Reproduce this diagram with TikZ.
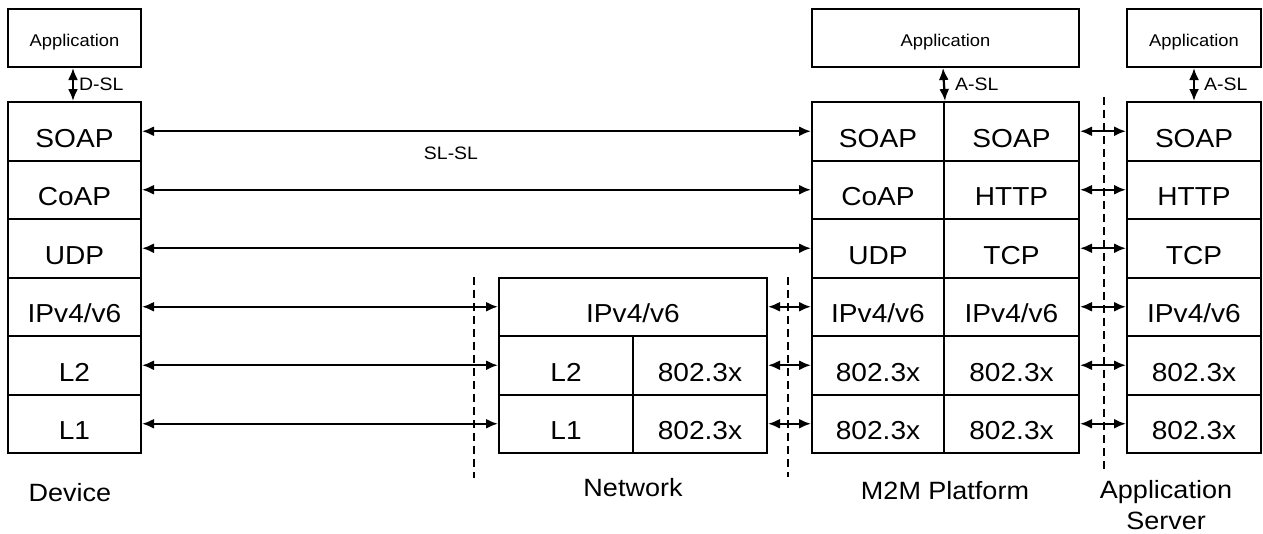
\documentclass[tikz,border=0pt]{standalone}
\usepackage{fontspec}
\setmainfont{Liberation Sans}[FakeStretch=1.08]
\usetikzlibrary{arrows.meta}
\begin{document}
\begin{tikzpicture}[x=1pt,y=-1pt,
  cell/.style={draw, line width=2pt, anchor=north west, inner sep=0pt,
    minimum height=58.5pt, text height=32pt, text depth=0pt, font=\fontsize{26}{26}\selectfont},
  appbox/.style={draw, line width=2pt, anchor=north west, inner sep=0pt,
    minimum height=58pt, text height=16pt, text depth=0pt, font=\fontsize{17}{17}\selectfont},
  link/.style={line width=2.2pt, {Latex[length=12pt,width=10pt]}-{Latex[length=12pt,width=10pt]}},
  sep/.style={line width=1.6pt, dash pattern=on 8pt off 5pt},
  tag/.style={font=\fontsize{18}{18}\selectfont, inner sep=0pt},
  caption/.style={font=\fontsize{25}{31}\selectfont, inner sep=0pt, align=center}]
\useasboundingbox (0,0) rectangle (1263,533);

% Device
\node[appbox, minimum width=133pt] (dapp) at (7,8) {Application};
\node[cell, minimum width=133pt] (d1) at (7,101) {SOAP};
\node[cell, minimum width=133pt] (d2) at (7,159.5) {CoAP};
\node[cell, minimum width=133pt] (d3) at (7,218) {UDP};
\node[cell, minimum width=133pt] (d4) at (7,276.5) {IPv4/v6};
\node[cell, minimum width=133pt] (d5) at (7,335) {L2};
\node[cell, minimum width=133pt] (d6) at (7,393.5) {L1};

% Network
\node[cell, minimum width=268pt] (n4) at (498,276.5) {IPv4/v6};
\node[cell, minimum width=134pt] (n5a) at (498,335) {L2};
\node[cell, minimum width=134pt] (n5b) at (632,335) {802.3x};
\node[cell, minimum width=134pt] (n6a) at (498,393.5) {L1};
\node[cell, minimum width=134pt] (n6b) at (632,393.5) {802.3x};

% M2M platform
\node[appbox, minimum width=267pt] (mapp) at (811,8) {Application};
\node[cell, minimum width=132pt] (m1a) at (811,101) {SOAP};
\node[cell, minimum width=135pt] (m1b) at (943,101) {SOAP};
\node[cell, minimum width=132pt] (m2a) at (811,159.5) {CoAP};
\node[cell, minimum width=135pt] (m2b) at (943,159.5) {HTTP};
\node[cell, minimum width=132pt] (m3a) at (811,218) {UDP};
\node[cell, minimum width=135pt] (m3b) at (943,218) {TCP};
\node[cell, minimum width=132pt] (m4a) at (811,276.5) {IPv4/v6};
\node[cell, minimum width=135pt] (m4b) at (943,276.5) {IPv4/v6};
\node[cell, minimum width=132pt] (m5a) at (811,335) {802.3x};
\node[cell, minimum width=135pt] (m5b) at (943,335) {802.3x};
\node[cell, minimum width=132pt] (m6a) at (811,393.5) {802.3x};
\node[cell, minimum width=135pt] (m6b) at (943,393.5) {802.3x};

% Application server
\node[appbox, minimum width=134pt] (aapp) at (1126,8) {Application};
\node[cell, minimum width=134pt] (a1) at (1126,101) {SOAP};
\node[cell, minimum width=134pt] (a2) at (1126,159.5) {HTTP};
\node[cell, minimum width=134pt] (a3) at (1126,218) {TCP};
\node[cell, minimum width=134pt] (a4) at (1126,276.5) {IPv4/v6};
\node[cell, minimum width=134pt] (a5) at (1126,335) {802.3x};
\node[cell, minimum width=134pt] (a6) at (1126,393.5) {802.3x};

% Domain boundaries
\coordinate (s1t) at (474,277); \coordinate (s1b) at (474,478);
\coordinate (s2t) at (788,277); \coordinate (s2b) at (788,477);
\coordinate (s3t) at (1104,97); \coordinate (s3b) at (1104,472);
\draw[sep] (s1t) -- (s1b);
\draw[sep] (s2t) -- (s2b);
\draw[sep] (s3t) -- (s3b);

% Service layer interfaces
\draw[link] (dapp.south -| 73,0) -- (d1.north -| 73,0) node[midway, right=5pt, tag] {D-SL};
\draw[link] (mapp.south -| 943,0) -- (m1a.north east) node[midway, right=10pt, tag] {A-SL};
\draw[link] (aapp.south) -- (a1.north) node[midway, right=9pt, tag] {A-SL};

% Peer links: device to M2M platform
\draw[link] (d1.east) -- (m1a.west);
\draw[link] (d2.east) -- (m2a.west);
\draw[link] (d3.east) -- (m3a.west);
\node[tag] (slsl) at (451,153) {SL-SL};

% Device to network
\draw[link] (d4.east) -- (n4.west);
\draw[link] (d5.east) -- (n5a.west);
\draw[link] (d6.east) -- (n6a.west);

% Network to M2M platform
\draw[link] (n4.east) -- (m4a.west);
\draw[link] (n5b.east) -- (m5a.west);
\draw[link] (n6b.east) -- (m6a.west);

% M2M platform to application server
\draw[link] (m1b.east) -- (a1.west);
\draw[link] (m2b.east) -- (a2.west);
\draw[link] (m3b.east) -- (a3.west);
\draw[link] (m4b.east) -- (a4.west);
\draw[link] (m5b.east) -- (a5.west);
\draw[link] (m6b.east) -- (a6.west);

% Domain captions
\node[caption] (cdev) at (70,493) {Device};
\node[caption] (cnet) at (633,488) {Network};
\node[caption] (cm2m) at (945,491) {M2M Platform};
\node[caption] (cas) at (1166,505) {Application\\Server};
\end{tikzpicture}
\end{document}
